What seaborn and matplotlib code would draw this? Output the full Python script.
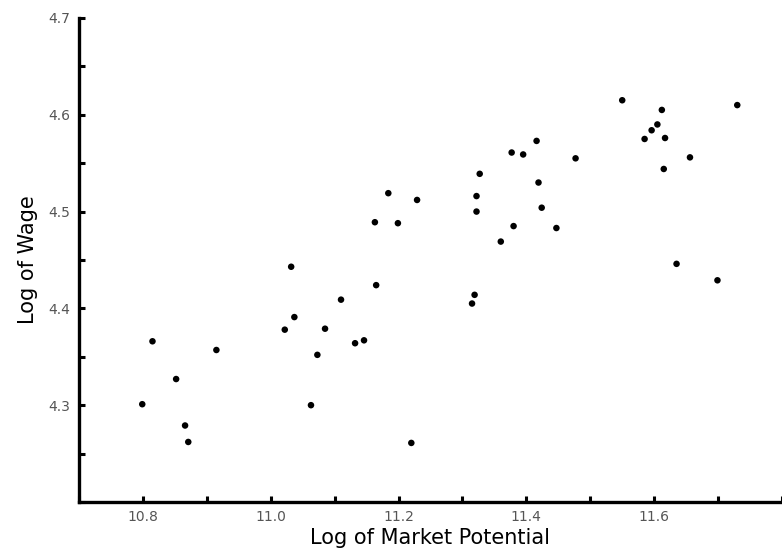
import numpy as np
import pandas as pd
import seaborn as sns
import matplotlib.pyplot as plt
from matplotlib.ticker import MultipleLocator

# values
market_potential = [10.799, 10.815, 10.852, 10.866, 10.871, 10.915, 11.022, 11.032,
                    11.037, 11.063, 11.073, 11.085, 11.110, 11.132, 11.146, 11.163,
                    11.165, 11.184, 11.199, 11.220, 11.229, 11.315, 11.319, 11.322,
                    11.322, 11.327, 11.360, 11.377, 11.380, 11.395, 11.416, 11.419,
                    11.424, 11.447, 11.477, 11.550, 11.585, 11.596, 11.605, 11.612,
                    11.617, 11.615, 11.635, 11.656, 11.699, 11.730]
wage = [4.301, 4.366, 4.327, 4.279, 4.262, 4.357, 4.378, 4.443,
        4.391, 4.300, 4.352, 4.379, 4.409, 4.364, 4.367, 4.489,
        4.424, 4.519, 4.488, 4.261, 4.512, 4.405, 4.414, 4.516,
        4.500, 4.539, 4.469, 4.561, 4.485, 4.559, 4.573, 4.530,
        4.504, 4.483, 4.555, 4.615, 4.575, 4.584, 4.590, 4.605,
        4.576, 4.544, 4.446, 4.556, 4.429, 4.610]
x_ticks = [10.8, 11.0, 11.2, 11.4, 11.6]
y_ticks = [4.3, 4.4, 4.5, 4.6, 4.7]

df = pd.DataFrame({'mp': market_potential, 'wage': wage})

sns.set_style('ticks')
plt.rcParams['font.family'] = ['DejaVu Sans']

fig = plt.figure(figsize=(7.82, 5.58), dpi=100)
ax = fig.add_axes([0.101, 0.1004, 0.899, 0.8674])
sns.scatterplot(data=df, x='mp', y='wage', color='black', s=22, edgecolor='none', ax=ax)

ax.set_xlim(10.7, 11.8)
ax.set_ylim(4.2, 4.7)
ax.set_xticks(x_ticks)
ax.set_yticks(y_ticks)
ax.xaxis.set_minor_locator(MultipleLocator(0.1))
ax.yaxis.set_minor_locator(MultipleLocator(0.05))
ax.set_xticklabels([f'{v:.1f}' for v in x_ticks])
ax.set_yticklabels([f'{v:.1f}' for v in y_ticks])

sns.despine(ax=ax)
for s in ['left', 'bottom']:
    ax.spines[s].set_linewidth(2.4)
    ax.spines[s].set_color('black')
ax.tick_params(which='both', direction='in', length=4, width=2.2, color='black',
               labelsize=10, labelcolor='#555555', pad=6)

ax.set_xlabel('Log of Market Potential', fontsize=15, labelpad=3, color='black')
ax.set_ylabel('Log of Wage', fontsize=15, labelpad=8, color='black')

fig.savefig('out.png', dpi=100)
